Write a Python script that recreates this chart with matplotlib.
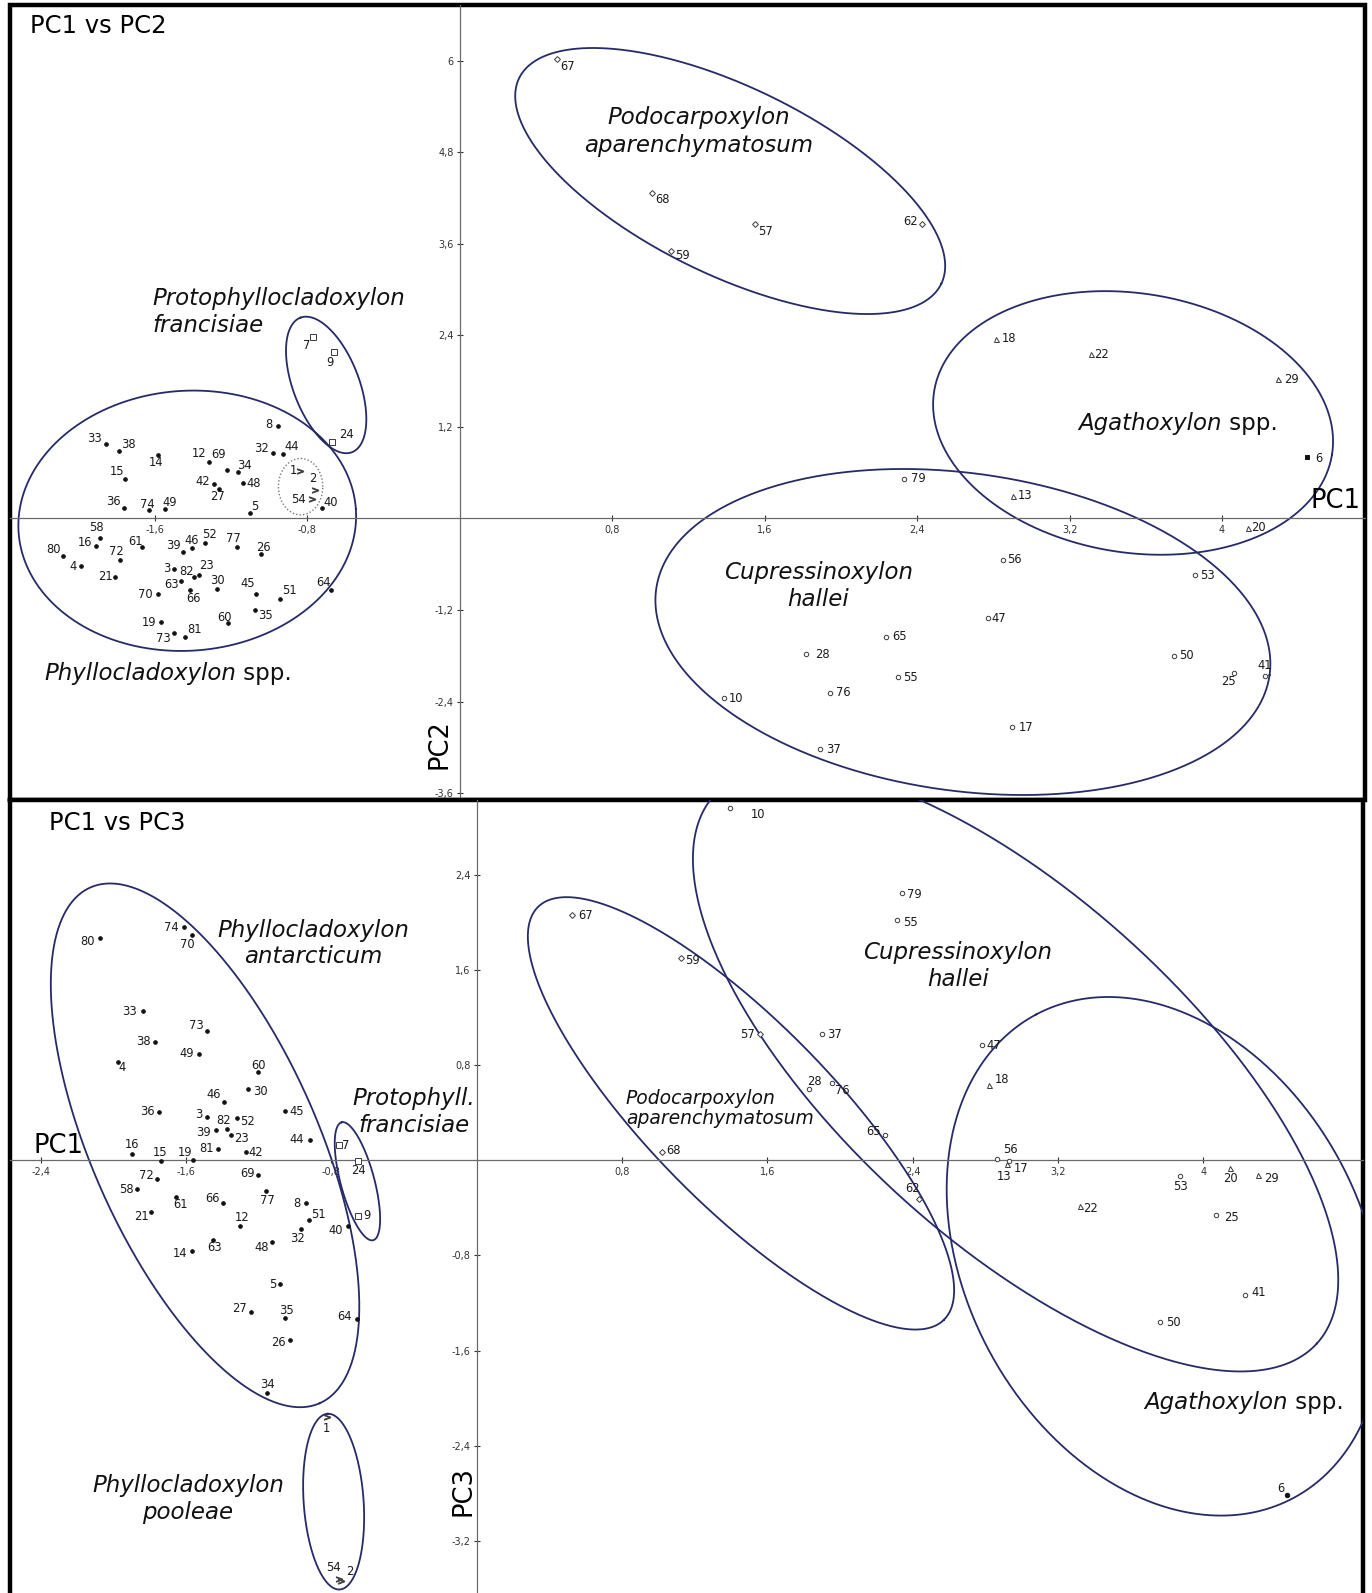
import numpy as np
import matplotlib
matplotlib.use("Agg")
import matplotlib.pyplot as plt
from matplotlib.lines import Line2D

# ---------------- DATA : PC1 vs PC2 ----------------
PHY_T_ID = [33, 38, 14, 15, 12, 69, 34, 42, 27, 48, 32, 44, 8, 36, 74, 49, 5, 40, 58, 16, 80, 72, 4, 21, 61,
            39, 46, 52, 77, 26, 3, 82, 23, 63, 66, 70, 30, 45, 51, 64, 60, 35, 19, 73, 81]
PHY_T_X = [-1.857, -1.787, -1.584, -1.754, -1.315, -1.219, -1.166, -1.292, -1.262, -1.138, -0.981, -0.928, -0.956,
           -1.761, -1.630, -1.546, -1.100, -0.724, -1.887, -1.908, -2.082, -1.782, -1.988, -1.808, -1.668,
           -1.453, -1.406, -1.339, -1.169, -1.044, -1.498, -1.392, -1.366, -1.462, -1.414, -1.581, -1.274,
           -1.068, -0.942, -0.675, -1.217, -1.073, -1.568, -1.502, -1.441]
PHY_T_Y = [0.972, 0.885, 0.832, 0.514, 0.737, 0.636, 0.613, 0.448, 0.387, 0.461, 0.862, 0.845, 1.216,
           0.134, 0.111, 0.121, 0.068, 0.134, -0.260, -0.360, -0.488, -0.544, -0.623, -0.763, -0.377,
           -0.443, -0.391, -0.325, -0.370, -0.465, -0.662, -0.771, -0.740, -0.819, -0.937, -0.990, -0.924,
           -0.990, -1.055, -0.937, -1.366, -1.199, -1.360, -1.497, -1.549]
PRO_T_ID = [7, 9, 24]
PRO_T_X = [-0.768, -0.659, -0.668]
PRO_T_Y = [2.383, 2.178, 1.007]
POO_T_ID = [1, 2, 54]
POO_T_X = [-0.837, -0.759, -0.776]
POO_T_Y = [0.623, 0.374, 0.252]
POD_T_ID = [67, 68, 59, 57, 62]
POD_T_X = [0.509, 1.008, 1.109, 1.550, 2.428]
POD_T_Y = [6.018, 4.270, 3.510, 3.856, 3.860]
AGA_T_ID = [18, 22, 29, 6, 13, 20]
AGA_T_X = [2.813, 3.311, 4.292, 4.448, 2.905, 4.138]
AGA_T_Y = [2.353, 2.152, 1.828, 0.810, 0.299, -0.121]
CUP_T_ID = [79, 56, 47, 65, 28, 55, 76, 10, 17, 37, 53, 50, 25, 41]
CUP_T_X = [2.332, 2.853, 2.771, 2.237, 1.817, 2.302, 1.943, 1.384, 2.897, 1.891, 3.858, 3.748, 4.065, 4.226]
CUP_T_Y = [0.518, -0.544, -1.308, -1.549, -1.780, -2.082, -2.283, -2.357, -2.737, -3.025, -0.741, -1.798,
           -2.029, -2.060]

# ---------------- DATA : PC1 vs PC3 ----------------
PHY_B_ID = [80, 74, 70, 33, 73, 38, 49, 4, 60, 30, 46, 36, 3, 45, 82, 52, 39, 23, 81, 42, 44, 16, 15, 19, 72,
            69, 58, 61, 66, 77, 8, 51, 21, 12, 32, 40, 48, 63, 14, 5, 27, 35, 64, 26, 34]
PHY_B_X = [-2.072, -1.613, -1.570, -1.838, -1.484, -1.772, -1.530, -1.976, -1.203, -1.258, -1.392, -1.747,
           -1.484, -1.058, -1.374, -1.322, -1.438, -1.352, -1.425, -1.269, -0.918, -1.897, -1.741, -1.561,
           -1.763, -1.203, -1.870, -1.655, -1.396, -1.159, -0.942, -0.924, -1.796, -1.304, -0.970, -0.707,
           -1.126, -1.451, -1.567, -1.084, -1.245, -1.058, -0.657, -1.029, -1.153]
PHY_B_Y = [1.871, 1.961, 1.893, 1.255, 1.087, 0.997, 0.896, 0.826, 0.742, 0.602, 0.490, 0.409, 0.364, 0.414,
           0.266, 0.353, 0.255, 0.213, 0.098, 0.070, 0.171, 0.056, -0.006, 0.003, -0.160, -0.126, -0.244,
           -0.305, -0.361, -0.258, -0.361, -0.502, -0.431, -0.552, -0.580, -0.552, -0.683, -0.672, -0.762,
           -1.042, -1.275, -1.330, -1.336, -1.510, -1.958]
PRO_B_ID = [7, 24, 9]
PRO_B_X = [-0.759, -0.654, -0.654]
PRO_B_Y = [0.126, -0.006, -0.468]
POO_B_ID = [1, 54, 2]
POO_B_X = [-0.826, -0.759, -0.745]
POO_B_Y = [-2.162, -3.521, -3.535]
POD_B_ID = [67, 59, 57, 68, 62]
POD_B_X = [0.522, 1.124, 1.561, 1.019, 2.437]
POD_B_Y = [2.067, 1.703, 1.059, 0.070, -0.322]
CUP_B_ID = [10, 79, 55, 37, 28, 76, 65, 47, 56, 17, 53, 25, 41, 50]
CUP_B_X = [1.396, 2.340, 2.312, 1.899, 1.831, 1.954, 2.248, 2.782, 2.863, 2.929, 3.873, 4.072, 4.233, 3.763]
CUP_B_Y = [2.964, 2.250, 2.019, 1.059, 0.597, 0.647, 0.213, 0.966, 0.014, -0.008, -0.132, -0.462, -1.132,
           -1.356]
AGA_B_ID = [18, 13, 22, 20, 29, 6]
AGA_B_X = [2.823, 2.918, 3.324, 4.149, 4.301, 4.461]
AGA_B_Y = [0.630, -0.028, -0.384, -0.061, -0.123, -2.812]

# ticks
XT_T = [-1.6, -0.8, 0.8, 1.6, 2.4, 3.2, 4.0]
YT_T = [-3.6, -2.4, -1.2, 1.2, 2.4, 3.6, 4.8, 6.0]
XT_B = [-2.4, -1.6, -0.8, 0.8, 1.6, 2.4, 3.2, 4.0]
YT_B = [-3.2, -2.4, -1.6, -0.8, 0.8, 1.6, 2.4]

# ---------------- STYLE (group envelopes, label offsets in px) ----------------
ELL_T = [(-1.430, -0.03, 0.887, 0.682, 4), (-0.701, 1.750, 0.378, 0.173, 111),
         (1.419, 4.423, 1.232, 0.492, -26), (3.533, 1.252, 1.057, 0.680, -9),
         (2.64, -1.488, 1.625, 0.833, -8)]
ELL_T_DOT = (-0.835, 0.417, 0.1165, 0.148, 0)
ELL_B = [(-1.496, 0.126, 1.554, 0.621, -66), (-0.657, -0.176, 0.336, 0.093, 105),
         (-0.788, -2.870, 0.485, 0.165, 94), (1.455, 0.395, 1.594, 0.504, -45.5),
         (2.967, 0.765, 2.243, 0.945, -42.3), (3.788, -0.807, 1.508, 1.098, 118)]

OFF_T = {33: (-11, -6), 38: (9, -6), 14: (-2, 8), 15: (-8, -8), 12: (-10, -9), 69: (-9, -15), 34: (7, -6),
         42: (-11, -3), 27: (-2, 8), 48: (11, 0), 32: (-11, -4), 44: (9, -7), 8: (-9, -1), 36: (-11, -7),
         74: (-2, -6), 49: (5, -7), 5: (5, -7), 40: (9, -6), 58: (-4, -11), 16: (-11, -3), 80: (-9, -6),
         72: (-4, -8), 4: (-8, 0), 21: (-10, 0), 61: (-6, -6), 39: (-9, -7), 46: (0, -8), 52: (5, -9),
         77: (-4, -8), 26: (3, -6), 3: (-8, 0), 82: (-8, -6), 23: (7, -9), 63: (-10, 4), 66: (3, 9),
         70: (-13, 0), 30: (0, -8), 45: (-8, -11), 51: (9, -8), 64: (-8, -7), 60: (-3, -5), 35: (10, 6),
         19: (-12, 0), 73: (-10, 6), 81: (9, -7),
         7: (-7, 9), 9: (-4, 10), 24: (14, -7), 1: (-7, 0), 2: (-2, -11), 54: (-13, 0),
         67: (11, 7), 68: (11, 7), 59: (11, 5), 57: (10, 7), 62: (-12, -2),
         18: (13, 0), 22: (11, 0), 29: (14, 0), 6: (11, 2), 13: (12, 0), 20: (10, 0),
         79: (14, 0), 56: (11, 0), 47: (11, 0), 65: (13, 0), 28: (16, 0), 55: (12, 0), 76: (13, 0),
         10: (13, 0), 17: (14, 0), 37: (13, 0), 53: (12, 0), 50: (12, 0), 25: (-6, 8), 41: (0, -10)}
OFF_B = {80: (-13, 4), 74: (-12, 0), 70: (-4, 9), 33: (-13, 0), 73: (-11, -6), 38: (-12, 0), 49: (-12, 0),
         4: (4, 5), 60: (0, -7), 30: (12, 3), 46: (-10, -8), 36: (-12, 0), 3: (-8, -3), 45: (12, 0),
         82: (-4, -8), 52: (11, 3), 39: (-12, 3), 23: (10, 4), 81: (-11, 0), 42: (9, 0), 44: (-13, 0),
         16: (0, -9), 15: (0, -9), 19: (-8, -7), 72: (-10, -4), 69: (-11, -2), 58: (-11, 0), 61: (4, 8),
         66: (-11, -5), 77: (1, 9), 8: (-9, 0), 51: (10, -6), 21: (-9, 5), 12: (2, -8), 32: (-3, 9),
         40: (-13, 5), 48: (-11, 6), 63: (1, 7), 14: (-12, 3), 5: (-7, 0), 27: (-11, -3), 35: (2, -8),
         64: (-13, -3), 26: (-11, 3), 34: (0, -9),
         7: (7, 0), 24: (0, 9), 9: (9, 0), 1: (0, 11), 54: (-5, -12), 2: (8, -9),
         67: (14, 1), 59: (12, 3), 57: (-13, 0), 68: (12, -2), 62: (-7, -10),
         10: (28, 7), 79: (13, 2), 55: (14, 2), 37: (13, 0), 28: (5, -8), 76: (11, 7), 65: (-11, -3),
         47: (12, 0), 56: (14, -9), 17: (12, 7), 53: (0, 10), 25: (15, 2), 41: (13, -2), 50: (13, 1),
         18: (13, -6), 13: (-3, 13), 22: (10, 3), 20: (0, 11), 29: (14, 4), 6: (-6, -6)}

ELL_COLOR = "#272a68"
FW, FH = 1372, 1593

fig = plt.figure(figsize=(FW / 100, FH / 100), dpi=100)
fig.patch.set_facecolor("white")


def add_axes(l, t, r, b):
    return fig.add_axes([l / FW, 1 - b / FH, (r - l) / FW, (b - t) / FH])


def fmt(v):
    return ("%g" % v).replace(".", ",")


def setup(ax, xlim, ylim, xt, yt, box_bottom=True):
    ax.set_xlim(*xlim)
    ax.set_ylim(*ylim)
    for s in ("top", "right"):
        ax.spines[s].set_visible(False)
    for s in ("left", "bottom"):
        ax.spines[s].set_position(("data", 0))
        ax.spines[s].set_color("#6a6a6a")
        ax.spines[s].set_linewidth(0.9)
    ax.set_xticks(xt)
    ax.set_xticklabels([fmt(v) for v in xt])
    ax.set_yticks(yt)
    ax.set_yticklabels([fmt(v) for v in yt])
    ax.tick_params(direction="inout", length=5, width=0.8, labelsize=7, pad=2,
                   colors="#333333")
    pts = [(0, 0), (0, 1), (1, 1), (1, 0)]
    if box_bottom:
        pts.append((0, 0))
    xs, ys = zip(*pts)
    ax.add_line(Line2D(xs, ys, transform=ax.transAxes, color="black", lw=3.2,
                       clip_on=False, solid_joinstyle="miter"))


def ellipse(ax, e, **kw):
    cx, cy, a, b, ang = e
    p0 = ax.transData.transform((0, 0))
    sx = ax.transData.transform((1, 0))[0] - p0[0]
    sy = ax.transData.transform((0, 1))[1] - p0[1]
    k = sx / sy
    t = np.linspace(0, 2 * np.pi, 500)
    th = np.radians(ang)
    u = a * np.cos(t) * np.cos(th) - b * np.sin(t) * np.sin(th)
    v = a * np.cos(t) * np.sin(th) + b * np.sin(t) * np.cos(th)
    style = dict(color=ELL_COLOR, lw=1.3)
    style.update(kw)
    ax.plot(cx + u, cy + v * k, **style)


def group(ax, ids, xs, ys, offs, marker, size, filled=False, fontsize=8.3, edge="#3a3a3a"):
    ax.plot(xs, ys, linestyle="none", marker=marker, ms=size,
            mfc=edge if filled else "white", mec=edge, mew=0.7, zorder=3)
    for i, x, y in zip(ids, xs, ys):
        dx, dy = offs.get(i, (12, 0))
        ax.annotate(str(i), (x, y), xytext=(dx * 0.72, -dy * 0.72), textcoords="offset points",
                    ha="center", va="center", fontsize=fontsize, color="#1a1a1a", zorder=4)


def species(ax, x, y, italic, normal="", size=16.5, ha="left", lsp=1.2):
    t = ax.text(x, y, italic, style="italic", fontsize=size, ha=ha, va="center",
                multialignment=ha if ha != "center" else "center", linespacing=lsp, color="#111111")
    if normal:
        ax.annotate(normal, xy=(1, 0), xycoords=t, ha="left", va="bottom", fontsize=size,
                    color="#111111")
    return t


def split6(ids, xs, ys, keep):
    sel = [(i, x, y) for i, x, y in zip(ids, xs, ys) if (i == 6) == keep]
    return [s[0] for s in sel], [s[1] for s in sel], [s[2] for s in sel]


# ---------------- TOP PANEL ----------------
axT = add_axes(10, 5, 1365, 800)
setup(axT, (-2.36, 4.75), (-3.69, 6.73), XT_T, YT_T)
for e in ELL_T:
    ellipse(axT, e)
ellipse(axT, ELL_T_DOT, color="#777777", lw=1.0, linestyle=(0, (1, 1.5)))

group(axT, PHY_T_ID, PHY_T_X, PHY_T_Y, OFF_T, "o", 2.6, filled=True, edge="#111111")
group(axT, PRO_T_ID, PRO_T_X, PRO_T_Y, OFF_T, "s", 4)
group(axT, POO_T_ID, POO_T_X, POO_T_Y, OFF_T, "$>$", 4.5, filled=True, edge="#444444")
group(axT, POD_T_ID, POD_T_X, POD_T_Y, OFF_T, "D", 3)
group(axT, CUP_T_ID, CUP_T_X, CUP_T_Y, OFF_T, "o", 3.2)
group(axT, *split6(AGA_T_ID, AGA_T_X, AGA_T_Y, False), OFF_T, "^", 3.6)
group(axT, *split6(AGA_T_ID, AGA_T_X, AGA_T_Y, True), OFF_T, "s", 3.2, filled=True, edge="#111111")

axT.text(0.0148, 0.974, "PC1 vs PC2", transform=axT.transAxes, fontsize=17.5, ha="left", va="center")
axT.text(4.724, 0.06, "PC1", fontsize=18.5, ha="right", va="bottom")
axT.text(-0.108, -2.955, "PC2", fontsize=18.5, ha="center", va="center", rotation=90)
species(axT, -1.615, 2.704, "Protophyllocladoxylon\nfrancisiae", lsp=1.25)
species(axT, 1.252, 5.07, "Podocarpoxylon\naparenchymatosum", ha="center", lsp=1.25)
species(axT, 3.245, 1.248, "Agathoxylon", " spp.")
species(axT, 1.882, -0.882, "Cupressinoxylon\nhallei", ha="center", lsp=1.25)
species(axT, -2.182, -2.035, "Phyllocladoxylon", " spp.")

# ---------------- BOTTOM PANEL ----------------
axB = add_axes(10, 800, 1363, 1592)
setup(axB, (-2.57, 4.88), (-3.63, 3.03), XT_B, YT_B, box_bottom=False)
for e in ELL_B:
    ellipse(axB, e)

group(axB, PHY_B_ID, PHY_B_X, PHY_B_Y, OFF_B, "o", 2.6, filled=True, edge="#111111")
group(axB, PRO_B_ID, PRO_B_X, PRO_B_Y, OFF_B, "s", 4)
group(axB, POO_B_ID, POO_B_X, POO_B_Y, OFF_B, "$>$", 4.5, filled=True, edge="#444444")
group(axB, POD_B_ID, POD_B_X, POD_B_Y, OFF_B, "D", 3)
group(axB, CUP_B_ID, CUP_B_X, CUP_B_Y, OFF_B, "o", 3.2)
group(axB, *split6(AGA_B_ID, AGA_B_X, AGA_B_Y, False), OFF_B, "^", 3.6)
group(axB, *split6(AGA_B_ID, AGA_B_X, AGA_B_Y, True), OFF_B, "o", 3.2, filled=True, edge="#111111")

axB.text(0.029, 0.971, "PC1 vs PC3", transform=axB.transAxes, fontsize=17.5, ha="left", va="center")
axB.text(-2.441, 0.12, "PC1", fontsize=18.5, ha="left", va="center")
axB.text(-0.072, -2.779, "PC3", fontsize=18.5, ha="center", va="center", rotation=90)
species(axB, -0.898, 1.822, "Phyllocladoxylon\nantarcticum", ha="center", lsp=1.2)
species(axB, -0.347, 0.408, "Protophyll.\nfrancisiae", ha="center", lsp=1.2)
species(axB, -1.590, -2.846, "Phyllocladoxylon\npooleae", ha="center", lsp=1.2)
species(axB, 0.821, 0.435, "Podocarpoxylon\naparenchymatosum", size=13.5, lsp=1.05)
species(axB, 2.650, 1.635, "Cupressinoxylon\nhallei", ha="center", lsp=1.2)
species(axB, 3.675, -2.036, "Agathoxylon", " spp.")

fig.savefig("out.png", dpi=100, facecolor="white")
